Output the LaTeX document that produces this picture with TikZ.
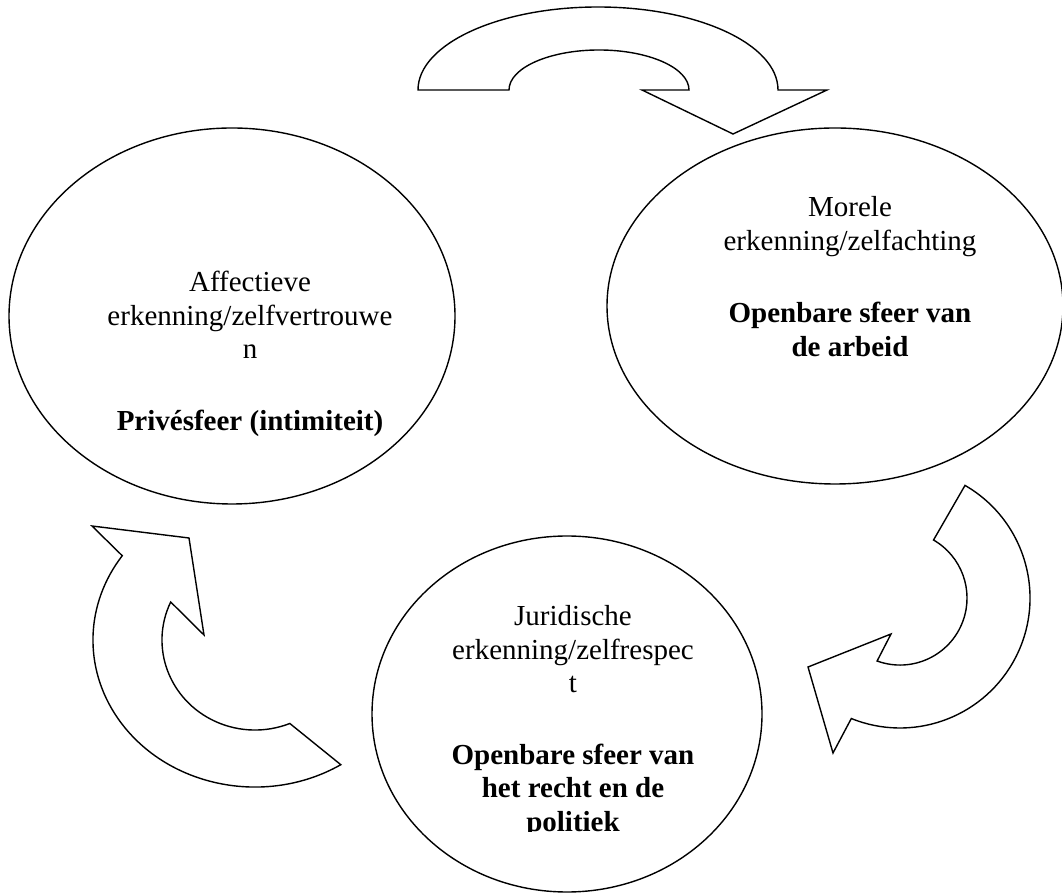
\documentclass[tikz,border=0pt]{standalone}
\usepackage{fontspec}
\setmainfont{Liberation Serif}
\begin{document}
\begin{tikzpicture}[x=1pt,y=1pt,
  shapeline/.style={draw=black,line width=1.4pt,fill=white,line join=miter},
  lbl/.style={anchor=base,inner sep=0pt,font=\fontsize{29}{33.5}\selectfont},
  blbl/.style={anchor=base,inner sep=0pt,font=\fontsize{29}{33.5}\selectfont\bfseries}]
\useasboundingbox (0,0) rectangle (1062,894);
\clip (0,0) rectangle (1062,894);
% ellipses
\draw[shapeline] (232,578) ellipse [x radius=223, y radius=188];
\draw[shapeline] (835,588) ellipse [x radius=228, y radius=178];
\draw[shapeline] (567,180) ellipse [x radius=195, y radius=178];
% top curved arrow
\draw[shapeline] (418,804) arc[start angle=180,end angle=0,x radius=180,y radius=83]
  -- (827,804) -- (733,760) -- (642,804) -- (689,804)
  arc[start angle=0,end angle=180,x radius=90,y radius=40] -- cycle;
% right curved arrow
\draw[shapeline] (965,408.6) arc[start angle=60,end angle=-112,radius=130]
  -- (833,141) -- (808,227) -- (891,260) -- (877.1,233)
  arc[start angle=-110,end angle=60,radius=67] -- cycle;
% left curved arrow
\draw[shapeline] (340.8,129.3) arc[start angle=-58,end angle=-215,x radius=162,y radius=147]
  -- (92,368) -- (189,356) -- (204,259) -- (170.7,292)
  arc[start angle=155,end angle=292,x radius=93,y radius=90] -- cycle;
% left text
\node[lbl] (l1) at (250,602) {Affectieve};
\node[lbl] (l2) at (250,568.5) {erkenning/zelfvertrouwe};
\node[lbl] (l3) at (250,535) {n};
\node[blbl] (l4) at (250,463) {Privésfeer (intimiteit)};
% right text
\node[lbl] (r1) at (850,677) {Morele};
\node[lbl] (r2) at (850,643) {erkenning/zelfachting};
\node[blbl] (r3) at (850,571) {Openbare sfeer van};
\node[blbl] (r4) at (850,537.5) {de arbeid};
% bottom text
\node[lbl] (b1) at (573,268) {Juridische};
\node[lbl] (b2) at (573,234.5) {erkenning/zelfrespec};
\node[lbl] (b3) at (573,201) {t};
\node[blbl] (b4) at (573,130) {Openbare sfeer van};
\node[blbl] (b5) at (573,96.5) {het recht en de};
\begin{scope}
\clip (400,63) rectangle (750,120);
\node[blbl] (b6) at (573,63) {politiek};
\end{scope}
\end{tikzpicture}
\end{document}
